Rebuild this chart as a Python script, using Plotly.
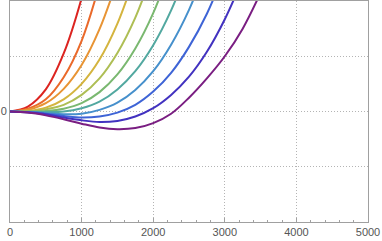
import plotly.graph_objects as go

# x positions (shared grid)
x_grid = [0, 250, 500, 750, 1000, 1250, 1500, 1750, 2000, 2250, 2500, 2750, 3000, 3250, 3500]

# series values (one list per curve)
red = [0, 0.09, 0.40, 1.05, 2.05, 3.4]
orange = [0, 0.05, 0.22, 0.62, 1.28, 2.3]
light_orange = [0, 0.03, 0.15, 0.41, 0.84, 1.49, 2.38]
yellow = [0, 0.01, 0.07, 0.22, 0.50, 0.94, 1.59, 2.48]
yellow_green = [0, 0.00, 0.04, 0.12, 0.30, 0.60, 1.06, 1.70, 2.56]
green = [0, 0.00, 0.01, 0.05, 0.15, 0.35, 0.67, 1.14, 1.78, 2.63]
teal = [0, -0.01, -0.01, 0.00, 0.06, 0.18, 0.40, 0.73, 1.20, 1.83, 2.64]
light_blue = [0, -0.01, -0.03, -0.05, -0.04, 0.03, 0.16, 0.39, 0.73, 1.21, 1.84, 2.65]
blue = [0, -0.01, -0.04, -0.08, -0.11, -0.09, -0.02, 0.12, 0.36, 0.70, 1.17, 1.77, 2.54]
indigo = [0, -0.02, -0.05, -0.11, -0.16, -0.19, -0.17, -0.09, 0.06, 0.30, 0.63, 1.08, 1.67, 2.40]
purple = [0, -0.02, -0.07, -0.14, -0.22, -0.29, -0.32, -0.30, -0.21, -0.04, 0.25, 0.60, 1.00, 1.50, 2.15]

series = [red, orange, light_orange, yellow, yellow_green, green, teal,
          light_blue, blue, indigo, purple]
colors = ["rgb(220,36,32)", "rgb(234,105,42)", "rgb(232,148,52)", "rgb(212,180,62)",
          "rgb(174,190,84)", "rgb(122,184,112)", "rgb(82,168,160)", "rgb(70,144,204)",
          "rgb(62,100,214)", "rgb(66,50,192)", "rgb(122,30,130)"]

x_ticks = [0, 1000, 2000, 3000, 4000, 5000]
y_ticks = [-1, 0, 1]
y_tick_text = ["", "0", ""]

fig = go.Figure()
for vals, col in zip(series, colors):
    fig.add_trace(go.Scatter(x=x_grid[:len(vals)], y=vals, mode="lines",
                             line=dict(color=col, width=2, shape="spline"),
                             showlegend=False, hoverinfo="skip"))

axis_common = dict(showline=True, linecolor="#a0a0a0", linewidth=1, mirror=True,
                   zeroline=False, gridcolor="#b4b4b4", griddash="1px,2px", gridwidth=1,
                   automargin=False,
                   tickfont=dict(family="Liberation Sans, Arial", size=11, color="#555555"))

fig.update_xaxes(range=[0, 5000], tickvals=x_ticks, ticks="inside", ticklen=4,
                 tickcolor="#a0a0a0",
                 minor=dict(ticks="inside", dtick=200, ticklen=2, tickcolor="#a0a0a0",
                            showgrid=False),
                 **axis_common)
fig.update_yaxes(range=[-2, 2], tickvals=y_ticks, ticktext=y_tick_text, ticks="",
                 **axis_common)

fig.update_layout(width=382, height=241,
                  margin=dict(l=10, r=14, t=1, b=19),
                  plot_bgcolor="white", paper_bgcolor="white")

fig.write_html("out.html", config={"displayModeBar": False},
               post_script="document.body.style.margin='0px';document.body.style.overflow='hidden';")
